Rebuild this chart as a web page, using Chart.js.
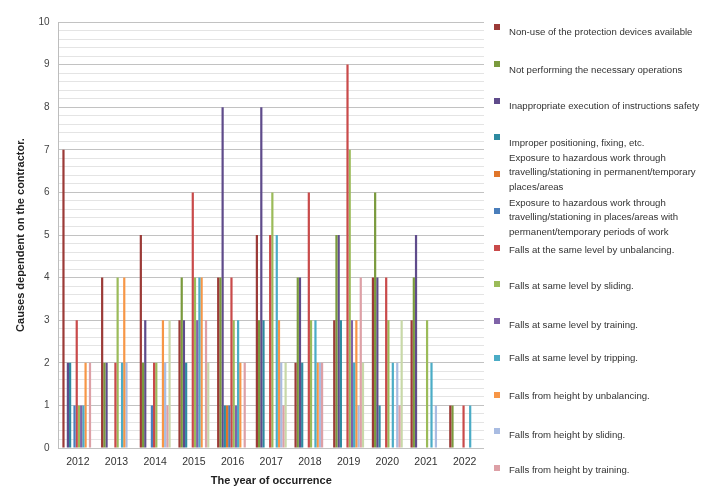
<!DOCTYPE html>
<html>
<head>
<meta charset="utf-8">
<script src="https://cdn.jsdelivr.net/npm/chart.js@4.4.1/dist/chart.umd.min.js"></script>
<style>
body{margin:0;background:#fff;}
#wrap{position:relative;width:706px;height:489px;overflow:hidden;}
#c{position:absolute;left:0;top:0;}
#legend{position:absolute;left:0;top:0;width:706px;height:489px;font-family:"Liberation Sans",Arial,sans-serif;font-size:9.6px;color:#333;}
.lg-box{position:absolute;width:6px;height:6px;}
.lg-text{position:absolute;white-space:pre;line-height:14.5px;}
</style>
</head>
<body>
<div id="wrap">
  <canvas id="c" width="706" height="489"></canvas>
  <div id="legend"></div>
</div>
<script>
const FONT='"Liberation Sans", Arial, sans-serif';

const years=['2012','2013','2014','2015','2016','2017','2018','2019','2020','2021','2022'];
const yTickLabels=[0,1,2,3,4,5,6,7,8,9,10];

// counts per year, one array per cause
const nonUseProtection   =[7,4,5,3,4,5,2,3,4,3,1];
const notPerformingOps   =[0,2,2,4,4,3,4,5,6,4,1];
const inappropriateExec  =[2,2,3,3,8,8,4,5,4,5,0];
const improperPositioning=[2,0,0,2,1,3,2,3,1,0,0];
const exposurePermanent  =[0,0,0,0,1,0,0,0,0,0,0];
const exposurePeriods    =[1,0,1,0,1,0,0,0,0,0,0];
const fallSameUnbalance  =[3,2,2,6,4,5,6,9,4,0,1];
const fallSameSliding    =[1,4,2,4,3,6,3,7,3,3,0];
const fallSameTraining   =[1,0,0,3,1,0,0,3,0,0,0];
const fallSameTripping   =[1,2,0,4,3,5,3,2,2,2,1];
const fallHeightUnbalance=[2,4,3,4,2,3,2,3,0,0,0];
const fallHeightSliding  =[0,2,2,0,0,2,2,1,2,1,0];
const fallHeightTraining =[2,0,1,3,2,1,2,4,1,0,0];
const fallHeightTripping =[0,0,3,2,0,2,0,2,3,0,0];

const seriesValues=[nonUseProtection,notPerformingOps,inappropriateExec,improperPositioning,
  exposurePermanent,exposurePeriods,fallSameUnbalance,fallSameSliding,fallSameTraining,
  fallSameTripping,fallHeightUnbalance,fallHeightSliding,fallHeightTraining,fallHeightTripping];

const seriesNames=[
  ['Non-use of the protection devices available'],
  ['Not performing the necessary operations'],
  ['Inappropriate execution of instructions safety'],
  ['Improper positioning, fixing, etc.'],
  ['Exposure to hazardous work through','travelling/stationing in permanent/temporary','places/areas'],
  ['Exposure to hazardous work through','travelling/stationing in places/areas with','permanent/temporary periods of work'],
  ['Falls at the same level by unbalancing.'],
  ['Falls at same level by sliding.'],
  ['Falls at same level by training.'],
  ['Falls at same level by tripping.'],
  ['Falls from height by unbalancing.'],
  ['Falls from height by sliding.'],
  ['Falls from height by training.'],
  ['Falls from height by tripping.']
];
const seriesColors=['#9B3A37','#7A9A3D','#5F4B8B','#2E8AA0','#E0762B','#4A7EBB','#C94A4A',
  '#9BBB59','#7F63A8','#4BACC6','#F79646','#A9BCE2','#DDA0A6','#C8D8A8'];
const legendShown=13; // the original legend is cut after 13 entries
// where the first text line sits relative to its colour box
const legendTextShift=[5,6,6,6,-16,-8,3,2,4,0,2,4,2];

const datasets=seriesValues.map((d,i)=>({
  label:seriesNames[i].join(' '),data:d,backgroundColor:seriesColors[i],borderWidth:0
}));

new Chart(document.getElementById('c').getContext('2d'),{
  type:'bar',
  data:{labels:years,datasets},
  options:{
    responsive:false,animation:false,
    layout:{padding:{left:10,right:222,top:22,bottom:0}},
    datasets:{bar:{categoryPercentage:0.8,barPercentage:1}},
    plugins:{legend:{display:false},tooltip:{enabled:false}},
    scales:{
      x:{
        grid:{display:false,drawTicks:false},border:{display:false},
        ticks:{color:'#333',font:{family:FONT,size:10.5},padding:8},
        title:{display:true,text:'The year of occurrence',color:'#222',
          font:{family:FONT,size:11,weight:'bold'},padding:{top:2,bottom:1}},
        afterFit:s=>{s.height=41;}
      },
      y:{
        min:0,max:10,
        afterBuildTicks:s=>{
          const t=[];
          yTickLabels.forEach((v,i)=>{
            t.push({value:v});
            if(i<yTickLabels.length-1) for(let k=1;k<5;k++) t.push({value:v+k/5});
          });
          s.ticks=t;
        },
        ticks:{autoSkip:false,color:'#444',font:{family:FONT,size:10},padding:9,
          callback:v=>Math.abs(v-Math.round(v))<1e-6?Math.round(v):''},
        grid:{drawTicks:false,lineWidth:1,
          color:c=>Math.abs(c.tick.value-Math.round(c.tick.value))<1e-6?'#c2c2c2':'#e4e4e4'},
        border:{display:true,color:'#bdbdbd'},
        title:{display:true,text:'Causes dependent on the contractor.',color:'#222',
          font:{family:FONT,size:11,weight:'bold'},padding:{top:4,bottom:4}},
        afterFit:s=>{s.width=48.5;}
      }
    }
  }
});

// legend drawn at the right, as in the source figure
const lg=document.getElementById('legend');
for(let i=0;i<legendShown;i++){
  const cy=27+i*36.75;
  const box=document.createElement('div');
  box.className='lg-box';
  box.style.left='494px';box.style.top=(cy-3)+'px';
  box.style.background=seriesColors[i];
  lg.appendChild(box);
  const tx=document.createElement('div');
  tx.className='lg-text';
  tx.textContent=seriesNames[i].join('\n');
  tx.style.left='509px';
  tx.style.top=(cy+legendTextShift[i]-7.25)+'px';
  lg.appendChild(tx);
}
</script>
</body>
</html>
